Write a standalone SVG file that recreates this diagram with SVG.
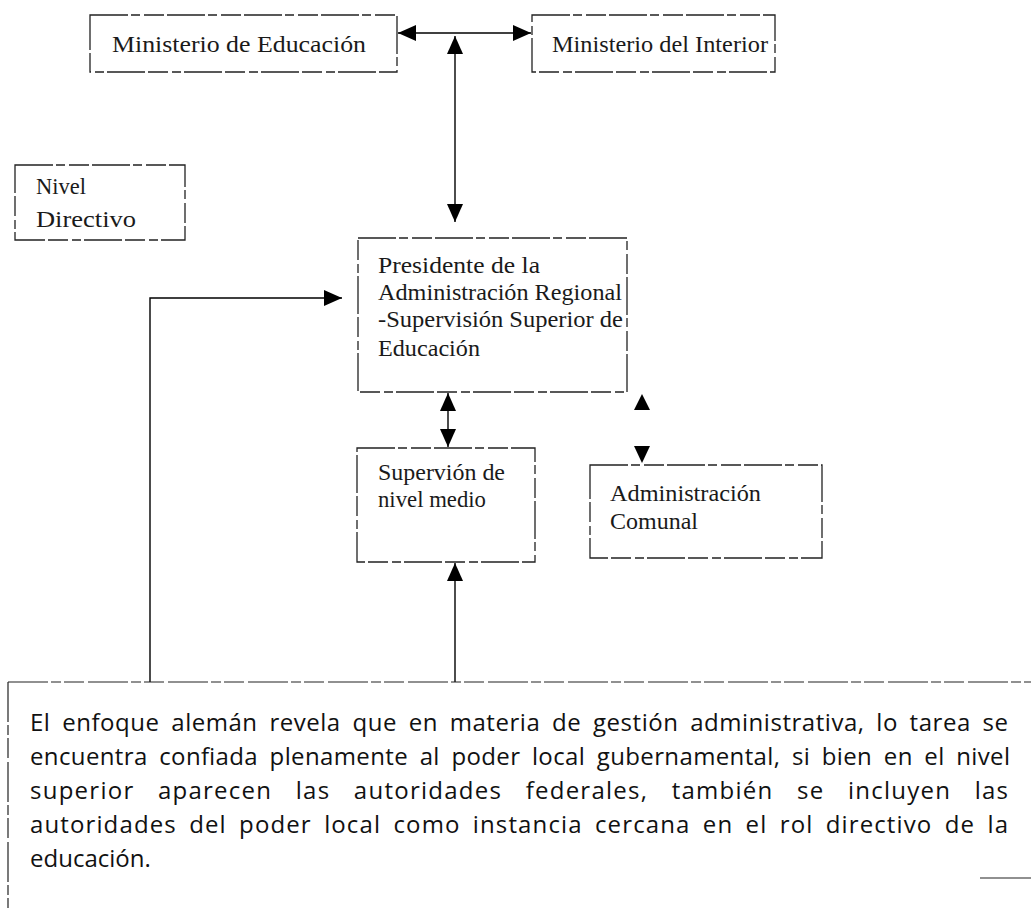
<svg xmlns="http://www.w3.org/2000/svg" width="1031" height="908" viewBox="0 0 1031 908">
<style>
.box{fill:#fff;stroke:#222;stroke-width:1.3;stroke-dasharray:38 3 9 4 20 3}
.lbl{font-family:"Liberation Serif",serif;font-size:23px;fill:#1a1a1a}
.note{font-family:"Open Sans","DejaVu Sans",sans-serif;font-size:24px;fill:#111}
.con{fill:none;stroke:#000;stroke-width:1.4}
</style>
<defs>
<marker id="ah" viewBox="0 0 18 16" refX="18" refY="8" markerWidth="18" markerHeight="16" markerUnits="userSpaceOnUse" orient="auto-start-reverse">
<path d="M0,0 L18,8 L0,16 Z" fill="#000"/>
</marker>
</defs>
<rect width="1031" height="908" fill="#fff"/>
<g id="connectors">
<line class="con" x1="398" y1="33" x2="531" y2="33" marker-start="url(#ah)" marker-end="url(#ah)"/>
<line class="con" x1="455" y1="36" x2="455" y2="222" marker-start="url(#ah)" marker-end="url(#ah)"/>
<line class="con" x1="448" y1="393" x2="448" y2="447" marker-start="url(#ah)" marker-end="url(#ah)"/>
<polygon points="642,394 634,410 650,410" fill="#000"/>
<polygon points="642,463 634,446 650,446" fill="#000"/>
<line class="con" x1="455" y1="682" x2="455" y2="563" marker-end="url(#ah)"/>
<path class="con" d="M150,682 V298 H342" marker-end="url(#ah)"/>
</g>
<g id="ministerio-educacion">
<rect class="box" x="90" y="15" width="307" height="57"/>
<text class="lbl" x="112" y="52" textLength="254" lengthAdjust="spacingAndGlyphs">Ministerio de Educación</text>
</g>
<g id="ministerio-interior">
<rect class="box" x="532" y="15" width="243" height="57"/>
<text class="lbl" x="552" y="52" textLength="216" lengthAdjust="spacingAndGlyphs">Ministerio del Interior</text>
</g>
<g id="nivel-directivo">
<rect class="box" x="15" y="165" width="170" height="75"/>
<text class="lbl" x="36" y="194" textLength="50" lengthAdjust="spacingAndGlyphs">Nivel</text>
<text class="lbl" x="36" y="227" textLength="100" lengthAdjust="spacingAndGlyphs">Directivo</text>
</g>
<g id="presidente">
<rect class="box" x="358" y="238" width="269" height="154"/>
<text class="lbl" x="378" y="273" textLength="162" lengthAdjust="spacingAndGlyphs">Presidente de la</text>
<text class="lbl" x="378" y="300" textLength="244" lengthAdjust="spacingAndGlyphs">Administración Regional</text>
<text class="lbl" x="378" y="327" textLength="245" lengthAdjust="spacingAndGlyphs">-Supervisión Superior de</text>
<text class="lbl" x="378" y="356" textLength="102" lengthAdjust="spacingAndGlyphs">Educación</text>
</g>
<g id="supervision">
<rect class="box" x="357" y="448" width="178" height="114"/>
<text class="lbl" x="378" y="480" textLength="127" lengthAdjust="spacingAndGlyphs">Supervión de</text>
<text class="lbl" x="378" y="507" textLength="108" lengthAdjust="spacingAndGlyphs">nivel medio</text>
</g>
<g id="comunal">
<rect class="box" x="590" y="465" width="232" height="93"/>
<text class="lbl" x="610" y="501" textLength="151" lengthAdjust="spacingAndGlyphs">Administración</text>
<text class="lbl" x="610" y="529" textLength="88" lengthAdjust="spacingAndGlyphs">Comunal</text>
</g>
<g id="nota">
<path d="M8,682 H1031 M8,682 V908" fill="none" stroke="#222" stroke-width="1.2" stroke-dasharray="40 3 10 3 20 4"/>
<line x1="980" y1="878" x2="1031" y2="878" stroke="#222" stroke-width="1.2"/>
<text class="note" x="30" y="731" word-spacing="5" textLength="978" lengthAdjust="spacing">El enfoque alemán revela que en materia de gestión administrativa, lo tarea se</text>
<text class="note" x="30" y="765" word-spacing="5" textLength="980" lengthAdjust="spacing">encuentra confiada plenamente al poder local gubernamental, si bien en el nivel</text>
<text class="note" x="30" y="799" word-spacing="16" textLength="978" lengthAdjust="spacing">superior aparecen las autoridades federales, también se incluyen las</text>
<text class="note" x="30" y="833" word-spacing="5" textLength="978" lengthAdjust="spacing">autoridades del poder local como instancia cercana en el rol directivo de la</text>
<text class="note" x="30" y="867">educación.</text>
</g>
</svg>
